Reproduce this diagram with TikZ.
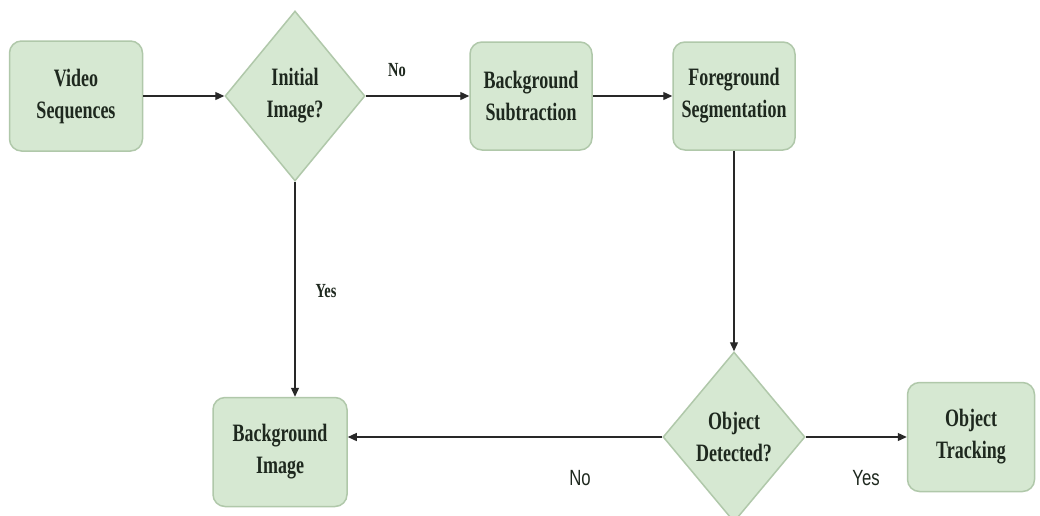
\documentclass[tikz,border=0pt]{standalone}
\usepackage{fontspec}
\setmainfont{Liberation Serif}
\newfontfamily\boxfont[FakeStretch=0.72]{Liberation Serif}
\newfontfamily\labsans[FakeStretch=0.76]{Liberation Sans}
\usetikzlibrary{shapes.geometric,arrows.meta}
\definecolor{boxfill}{RGB}{214,232,210}
\definecolor{boxline}{RGB}{176,200,170}
\definecolor{txt}{RGB}{30,40,30}
\definecolor{arr}{RGB}{40,40,40}
\tikzset{
  boxtext/.style={text=txt, align=center, font=\boxfont\fontsize{25}{32}\selectfont\bfseries},
  procbox/.style={draw=boxline, line width=1.5pt, fill=boxfill, rounded corners=12pt,
    inner sep=0pt, boxtext},
  decide/.style={draw=boxline, line width=1.5pt, fill=boxfill, diamond, inner sep=0pt},
  conn/.style={draw=arr, line width=1.3pt, -{Triangle[length=9pt,width=8pt]}},
  serlab/.style={text=txt, font=\boxfont\fontsize{20}{22}\selectfont\bfseries},
  sanlab/.style={text=txt, font=\labsans\fontsize{22}{24}\selectfont},
}
\begin{document}
\begin{tikzpicture}[x=1pt,y=-1pt]
\useasboundingbox (0,0) rectangle (1040,515);
\fill[white] (0,0) rectangle (1040,515);
\node[procbox, minimum width=133pt, minimum height=110pt] (vs) at (76,96) {Video\\Sequences};
\node[decide, minimum width=140pt, minimum height=170pt] (ii) at (295,96) {};
\node[boxtext] (iit) at (ii.center) {Initial\\Image?};
\node[procbox, minimum width=122pt, minimum height=108pt] (bs) at (531,96) {Background\\Subtraction};
\node[procbox, minimum width=122pt, minimum height=108pt] (fs) at (734,96) {Foreground\\Segmentation};
\node[procbox, minimum width=134pt, minimum height=109pt] (bi) at (280,452) {Background\\Image};
\node[decide, minimum width=142pt, minimum height=170pt] (od) at (734,437) {};
\node[boxtext] (odt) at (od.center) {Object\\Detected?};
\node[procbox, minimum width=127pt, minimum height=109pt] (ot) at (971,437) {Object\\Tracking};

\draw[conn] (vs.east) -- (ii.west);
\draw[conn] (ii.east) -- (bs.west);
\draw[conn] (bs.east) -- (fs.west);
\draw[conn] (fs.south) -- (od.north);
\draw[conn] (ii.south) -- (bi.north -| ii.south);
\draw[conn] (od.west) -- (bi.east |- od.west);
\draw[conn] (od.east) -- (ot.west |- od.east);

\node[serlab] (lno1) at (397,70) {No};
\node[serlab] (lyes1) at (326,291) {Yes};
\node[sanlab] (lno2) at (580,478) {No};
\node[sanlab] (lyes2) at (866,478) {Yes};
\end{tikzpicture}
\end{document}
